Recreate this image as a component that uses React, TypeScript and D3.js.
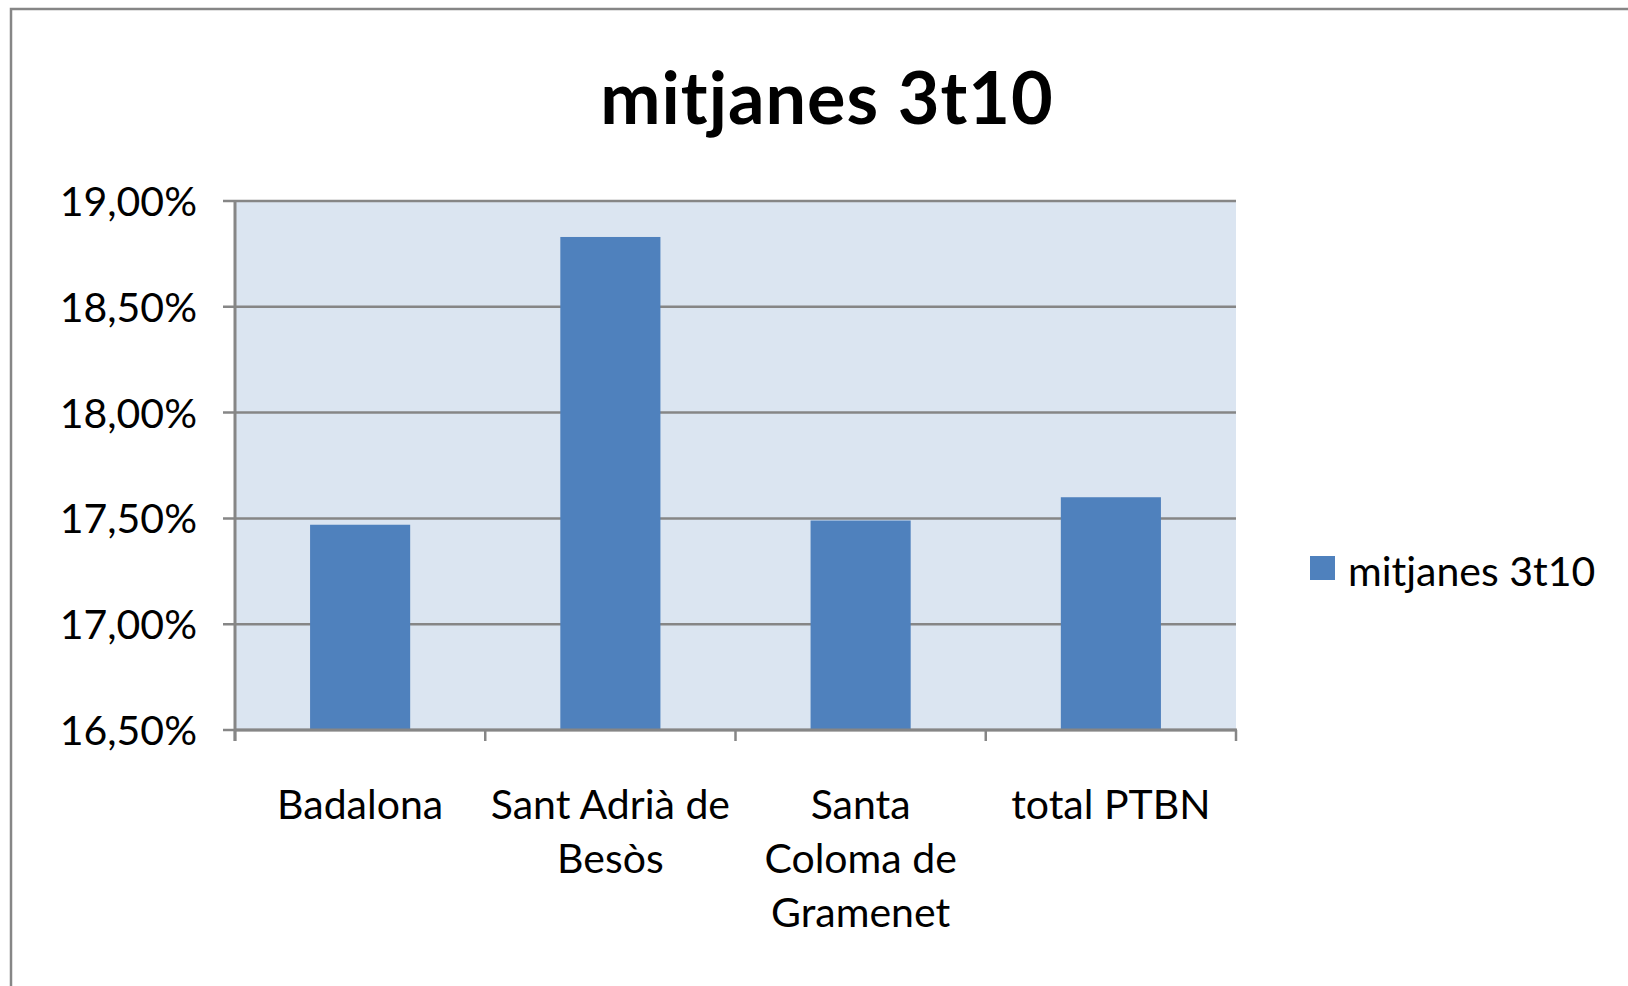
import React, { useEffect, useRef } from 'react';
import * as d3 from 'd3';

const CATEGORIES = ['Badalona', 'Sant Adrià de Besòs', 'Santa Coloma de Gramenet', 'total PTBN'];
const CATEGORY_LINES = [['Badalona'], ['Sant Adrià de', 'Besòs'], ['Santa', 'Coloma de', 'Gramenet'], ['total PTBN']];
const VALUES = [0.1747, 0.1883, 0.1749, 0.1760];
const SERIES_NAME = 'mitjanes 3t10';
const Y_TICKS = [0.165, 0.17, 0.175, 0.18, 0.185, 0.19];

const BAR = '#4F81BD';
const PLOT_BG = '#DBE5F1';
const GRID = '#868686';
const FONT = 'Lato, "Open Sans", sans-serif';

export default function App() {
  const svgRef = useRef<SVGSVGElement>(null);

  useEffect(() => {
    const width = 1628;
    const height = 986;
    const plot = { left: 235, right: 1236, top: 201, bottom: 730 };

    const svg = d3.select(svgRef.current);
    svg.selectAll('*').remove();
    svg.attr('width', width).attr('height', height).attr('viewBox', `0 0 ${width} ${height}`);

    // chart frame (runs off the right and bottom edges)
    svg.append('rect').attr('x', 11).attr('y', 9).attr('width', width + 50).attr('height', height + 50)
      .attr('fill', 'white').attr('stroke', GRID).attr('stroke-width', 2.5);

    const x = d3.scaleBand().domain(CATEGORIES).range([plot.left, plot.right])
      .paddingInner(0.6).paddingOuter(0.3);
    const y = d3.scaleLinear().domain([0.165, 0.19]).range([plot.bottom, plot.top]);

    svg.append('rect').attr('x', plot.left).attr('y', plot.top)
      .attr('width', plot.right - plot.left).attr('height', plot.bottom - plot.top)
      .attr('fill', PLOT_BG);

    // gridlines + left ticks
    Y_TICKS.forEach(t => {
      svg.append('line').attr('x1', plot.left - 12).attr('x2', plot.right)
        .attr('y1', y(t)).attr('y2', y(t)).attr('stroke', GRID).attr('stroke-width', 2.5);
      svg.append('text').attr('x', 197).attr('y', y(t) + 15).attr('text-anchor', 'end')
        .style('font-family', FONT).style('font-size', '41px').style('fill', '#000')
        .text((t * 100).toFixed(2).replace('.', ',') + '%');
    });

    // bars
    CATEGORIES.forEach((c, i) => {
      svg.append('rect').attr('x', x(c)!).attr('width', x.bandwidth())
        .attr('y', y(VALUES[i])).attr('height', y(0.165) - y(VALUES[i]))
        .attr('fill', BAR);
    });

    // axes
    svg.append('line').attr('x1', plot.left).attr('x2', plot.left)
      .attr('y1', plot.top - 1).attr('y2', plot.bottom + 11).attr('stroke', GRID).attr('stroke-width', 3);
    svg.append('line').attr('x1', plot.left).attr('x2', plot.right + 1)
      .attr('y1', plot.bottom).attr('y2', plot.bottom).attr('stroke', GRID).attr('stroke-width', 3);
    const step = x.step();
    d3.range(CATEGORIES.length + 1).forEach(i => {
      const tx = plot.left + i * step;
      svg.append('line').attr('x1', tx).attr('x2', tx)
        .attr('y1', plot.bottom).attr('y2', plot.bottom + 11).attr('stroke', GRID).attr('stroke-width', 2.5);
    });

    // category labels
    CATEGORIES.forEach((c, i) => {
      const cx = x(c)! + x.bandwidth() / 2;
      const t = svg.append('text').attr('text-anchor', 'middle')
        .style('font-family', FONT).style('font-size', '41px').style('fill', '#000');
      CATEGORY_LINES[i].forEach((line, k) => {
        t.append('tspan').attr('x', cx).attr('y', 819 + k * 54).text(line);
      });
    });

    // title
    svg.append('text').attr('x', 827).attr('y', 124).attr('text-anchor', 'middle')
      .style('font-family', FONT).style('font-size', '72px').style('font-weight', 'bold')
      .style('letter-spacing', '1px').style('fill', '#000').text(SERIES_NAME);

    // legend
    svg.append('rect').attr('x', 1310).attr('y', 556).attr('width', 25).attr('height', 24).attr('fill', BAR);
    svg.append('text').attr('x', 1348).attr('y', 586)
      .style('font-family', FONT).style('font-size', '41px').style('fill', '#000')
      .text(SERIES_NAME);
  }, []);

  return (
    <div style={{ position: 'absolute', left: 0, top: 0, width: 1628, height: 986, overflow: 'hidden', background: 'white' }}>
      <svg ref={svgRef} style={{ display: 'block' }}></svg>
    </div>
  );
}
